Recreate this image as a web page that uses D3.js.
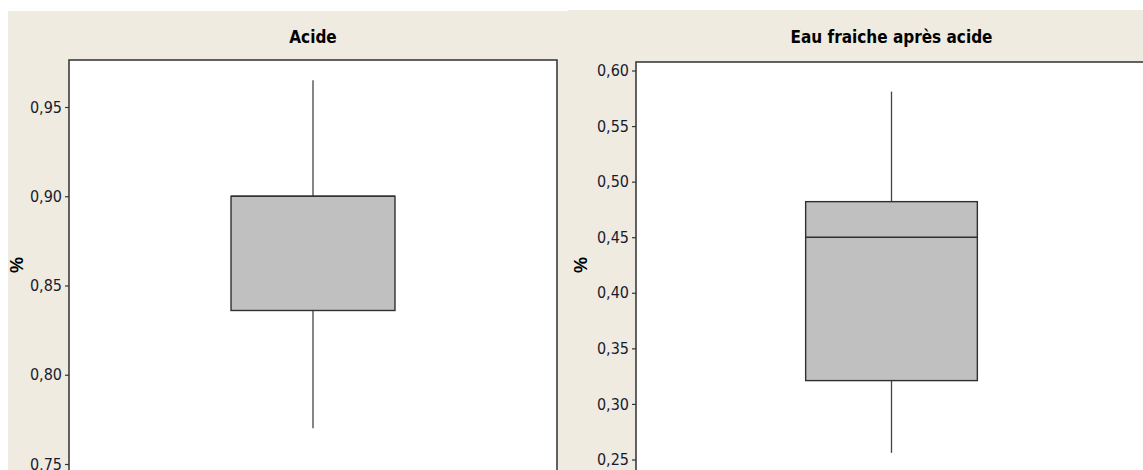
<!DOCTYPE html>
<html>
<head>
<meta charset="utf-8">
<script src="https://cdn.jsdelivr.net/npm/d3@7"></script>
<style>
  body { margin: 0; background: #ffffff; }
  svg { display: block; }
  .tick text { font-family: "Liberation Sans Narrow", "DejaVu Sans Condensed", sans-serif; font-size: 16px; fill: #1a1a2e; }
  .title { font-family: "Liberation Sans Narrow", "DejaVu Sans Condensed", sans-serif; font-size: 17px; font-weight: bold; fill: #000; }
  .ylab { font-family: "Liberation Sans Narrow", sans-serif; font-size: 18px; font-weight: bold; fill: #000; }
</style>
</head>
<body>
<div id="chart"></div>
<script>
// one box per panel
var panels = ["Acide", "Eau fraiche après acide"];
var whiskerLow = [0.770, 0.256];
var q1 = [0.836, 0.321];
var median = [0.900, 0.450];
var q3 = [0.900, 0.482];
var whiskerHigh = [0.965, 0.581];
var yTicks = [
  [0.75, 0.80, 0.85, 0.90, 0.95],
  [0.25, 0.30, 0.35, 0.40, 0.45, 0.50, 0.55, 0.60]
];
var yLabel = "%";

var width = 1143, height = 470;

// layout of the two panels, as laid out in the screenshot
var layout = [
  { bgX: 8, bgY: 11, bgW: 561, left: 69, right: 557, top: 60, yTop: 0.95, yTopPx: 107, yBot: 0.75, yBotPx: 464, labX: 18 },
  { bgX: 568, bgY: 10, bgW: 580, left: 636, right: 1147, top: 62, yTop: 0.60, yTopPx: 70.5, yBot: 0.25, yBotPx: 459.5, labX: 582 }
];

var locale = d3.formatLocale({ decimal: ",", thousands: " ", grouping: [3], currency: ["", "€"] });
var fmt = locale.format(".2f");

var svg = d3.select("#chart").append("svg")
    .attr("width", width)
    .attr("height", height);

panels.forEach(function(name, i) {
  var L = layout[i];
  var g = svg.append("g");

  g.append("rect")
      .attr("x", L.bgX).attr("y", L.bgY)
      .attr("width", L.bgW).attr("height", height - L.bgY + 5)
      .attr("fill", "#efebe1");

  var y = d3.scaleLinear()
      .domain([L.yBot, L.yTop])
      .range([L.yBotPx, L.yTopPx]);

  // plot area
  g.append("rect")
      .attr("x", L.left).attr("y", L.top)
      .attr("width", L.right - L.left).attr("height", height - L.top + 20)
      .attr("fill", "#ffffff")
      .attr("stroke", "#3c3c3c")
      .attr("stroke-width", 1.6);

  var axis = d3.axisLeft(y)
      .tickValues(yTicks[i])
      .tickFormat(fmt)
      .tickSize(4)
      .tickPadding(3);

  var ax = g.append("g")
      .attr("transform", "translate(" + L.left + ",0)")
      .call(axis);
  ax.select(".domain").remove();
  ax.selectAll(".tick line").attr("stroke", "#333").attr("stroke-width", 1.2);

  g.append("text")
      .attr("class", "title")
      .attr("x", (L.left + L.right) / 2)
      .attr("y", 43)
      .attr("text-anchor", "middle")
      .text(name);

  g.append("text")
      .attr("class", "ylab")
      .attr("transform", "translate(" + (L.labX + 5) + ",265) rotate(-90)")
      .attr("text-anchor", "middle")
      .text(yLabel);

  var boxW = (L.right - L.left) * 0.336;
  var cx = (L.left + L.right) / 2;

  // whiskers
  g.append("line")
      .attr("x1", cx).attr("x2", cx)
      .attr("y1", y(whiskerHigh[i])).attr("y2", y(q3[i]))
      .attr("stroke", "#444").attr("stroke-width", 1.3);
  g.append("line")
      .attr("x1", cx).attr("x2", cx)
      .attr("y1", y(q1[i])).attr("y2", y(whiskerLow[i]))
      .attr("stroke", "#444").attr("stroke-width", 1.3);

  g.append("rect")
      .attr("x", cx - boxW / 2)
      .attr("y", y(q3[i]))
      .attr("width", boxW)
      .attr("height", y(q1[i]) - y(q3[i]))
      .attr("fill", "#c0c0c0")
      .attr("stroke", "#303030")
      .attr("stroke-width", 1.4);

  g.append("line")
      .attr("x1", cx - boxW / 2).attr("x2", cx + boxW / 2)
      .attr("y1", y(median[i])).attr("y2", y(median[i]))
      .attr("stroke", "#303030").attr("stroke-width", 1.4);
});
</script>
</body>
</html>
